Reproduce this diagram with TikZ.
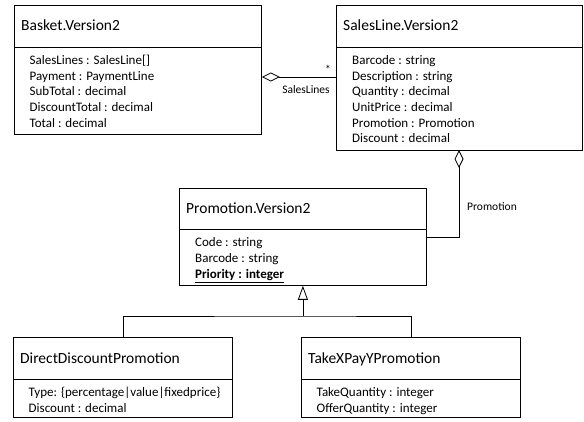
\documentclass[tikz,border=0pt]{standalone}
\usepackage{fontspec}
\setmainfont{Carlito}
\usetikzlibrary{arrows.meta}
\begin{document}
\begin{tikzpicture}[x=1pt,y=1pt,
  cls/.style={draw, line width=0.8pt, inner sep=0pt, anchor=north west},
  ttl/.style={anchor=base west, inner sep=0pt, font=\fontsize{15.5}{18}\selectfont},
  att/.style={anchor=base west, inner sep=0pt, font=\fontsize{13}{15}\selectfont},
  lbl/.style={inner sep=0pt, font=\fontsize{11.5}{13}\selectfont},
  conn/.style={line width=0.8pt},
  agg/.style={conn, {Diamond[open, length=18pt, width=9pt, line width=0.8pt]}-},
  gen/.style={conn, -{Triangle[open, length=14pt, width=10pt, line width=0.8pt]}}]
\useasboundingbox (0,0) rectangle (584,-422);

% Basket
\node[cls, minimum width=247pt, minimum height=129pt] (basket) at (14,-5) {};
\draw[conn] ([yshift=-42pt]basket.north west) -- ([yshift=-42pt]basket.north east);
\node[ttl] (basketT) at (21,-31) {Basket.Version2};
\foreach \t [count=\i] in {SalesLines : SalesLine[], Payment : PaymentLine, SubTotal : decimal, DiscountTotal : decimal, Total : decimal}
  \node[att] (basketA\i) at (29.5,{-64.5-15.7*(\i-1)}) {\t};

% SalesLine
\node[cls, minimum width=246pt, minimum height=145pt] (sales) at (336,-5) {};
\draw[conn] ([yshift=-42pt]sales.north west) -- ([yshift=-42pt]sales.north east);
\node[ttl] (salesT) at (343,-31) {SalesLine.Version2};
\foreach \t [count=\i] in {Barcode : string, Description : string, Quantity : decimal, UnitPrice : decimal, Promotion : Promotion, Discount : decimal}
  \node[att] (salesA\i) at (352,{-64.5-15.7*(\i-1)}) {\t};

% Promotion
\node[cls, minimum width=247pt, minimum height=97pt] (promo) at (179,-188) {};
\draw[conn] ([yshift=-41pt]promo.north west) -- ([yshift=-41pt]promo.north east);
\node[ttl] (promoT) at (186,-214) {Promotion.Version2};
\node[att] (promoA1) at (195,-246.5) {Code : string};
\node[att] (promoA2) at (195,-262.5) {Barcode : string};
\node[att] (promoA3) at (195,-278.5) {\textbf{\underline{Priority : integer}}};

% DirectDiscountPromotion
\node[cls, minimum width=219pt, minimum height=80pt] (direct) at (13,-337) {};
\draw[conn] ([yshift=-42pt]direct.north west) -- ([yshift=-42pt]direct.north east);
\node[ttl] (directT) at (20,-363.5) {DirectDiscountPromotion};
\node[att] (directA1) at (28.5,-396.5) {Type: \{percentage\textbar value\textbar fixedprice\}};
\node[att] (directA2) at (28.5,-412) {Discount : decimal};

% TakeXPayYPromotion
\node[cls, minimum width=219pt, minimum height=80pt] (takex) at (301,-337) {};
\draw[conn] ([yshift=-42pt]takex.north west) -- ([yshift=-42pt]takex.north east);
\node[ttl] (takexT) at (308,-363.5) {TakeXPayYPromotion};
\node[att] (takexA1) at (316.5,-396.5) {TakeQuantity : integer};
\node[att] (takexA2) at (316.5,-412) {OfferQuantity : integer};

% Aggregation Basket - SalesLine
\coordinate (aggA) at (basket.east |- 0,-77);
\coordinate (aggB) at (sales.west |- 0,-77);
\draw[agg] (aggA) -- (aggB);
\node[lbl] (mult) at (328,-69) {*};
\node[lbl] (salesLbl) at (306,-90) {SalesLines};

% Aggregation SalesLine - Promotion
\coordinate (aggC) at (459,-150);
\coordinate (aggBend) at (459,-237);
\coordinate (aggD) at (promo.east |- aggBend);
\draw[agg] (aggC) -- (aggBend) -- (aggD);
\node[lbl] (promoLbl) at (492,-207) {Promotion};

% Generalization
\coordinate (genJ) at (promo.south |- 0,-316);
\draw[gen] (genJ) -- (promo.south);
\draw[conn] (direct.north) |- (genJ) -| (takex.north);
\end{tikzpicture}
\end{document}
